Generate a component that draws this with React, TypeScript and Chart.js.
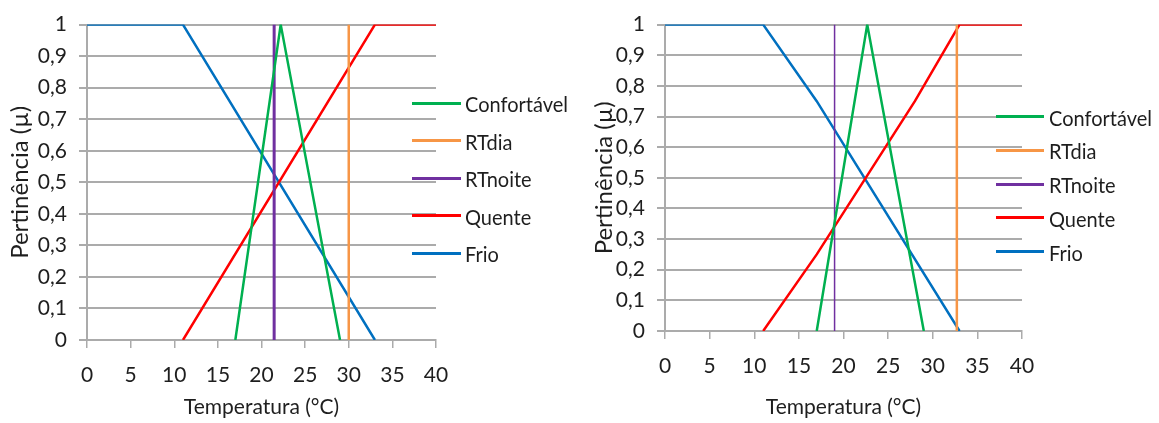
import React, { useEffect, useRef } from "react";
import { Chart, registerables } from "chart.js";

Chart.register(...registerables);

// ---------- data ----------
const seriesNames = ["Confortável", "RTdia", "RTnoite", "Quente", "Frio"];
const seriesColors = ["#00B050", "#F79646", "#7030A0", "#FF0000", "#0070C0"];

const xTickValues = [0, 5, 10, 15, 20, 25, 30, 35, 40];
const yTickLabels = ["0", "0,1", "0,2", "0,3", "0,4", "0,5", "0,6", "0,7", "0,8", "0,9", "1"];
const xAxisTitle = "Temperatura (°C)";
const yAxisTitle = "Pertinência (µ)";

// Left chart
const aConfX = [17, 22.2, 29];
const aConfY = [0, 1, 0];
const aRTdiaX = [30, 30];
const aRTdiaY = [0, 1];
const aRTnoiteX = [21.45, 21.45];
const aRTnoiteY = [0, 1];
const aQuenteX = [11, 33, 40];
const aQuenteY = [0, 1, 1];
const aFrioX = [0, 11, 33];
const aFrioY = [1, 1, 0];

// Right chart
const bConfX = [17, 22.66, 29];
const bConfY = [0, 1, 0];
const bRTdiaX = [32.7, 32.7];
const bRTdiaY = [0, 1];
const bRTnoiteX = [19, 19];
const bRTnoiteY = [0, 1];
const bQuenteX = [11, 17, 28, 33, 40];
const bQuenteY = [0, 0.25, 0.75, 1, 1];
const bFrioX = [0, 11, 17, 33];
const bFrioY = [1, 1, 0.75, 0];

// ---------- style ----------
const FONT = "Lato, 'Open Sans', sans-serif";
const GRID = "#ABABAB";
const TEXT = "#1e1e1e";

type Layout = {
  left: number;
  width: number;
  padRight: number;
  padTop: number;
  padBottom: number;
  yWidth: number;
  xHeight: number;
  yTitlePad: number;
  lineWidths: number[];
  legendTop: number;
  legendStep: number;
  legendLineLeft: number;
  legendLineWidth: number;
  legendTextGap: number;
  legendStroke: number;
};

const leftLayout: Layout = {
  left: 0,
  width: 580,
  padRight: 144,
  padTop: 19,
  padBottom: 3,
  yWidth: 87,
  xHeight: 80,
  yTitlePad: 6,
  lineWidths: [2.5, 2.5, 3, 2.5, 2.5],
  legendTop: 103.3,
  legendStep: 37.5,
  legendLineLeft: 412,
  legendLineWidth: 49,
  legendTextGap: 4,
  legendStroke: 3,
};

const rightLayout: Layout = {
  left: 580,
  width: 579,
  padRight: 137,
  padTop: 18,
  padBottom: 3,
  yWidth: 85,
  xHeight: 89,
  yTitlePad: 9.5,
  lineWidths: [2.5, 2.5, 1.5, 2.5, 2.5],
  legendTop: 116.7,
  legendStep: 33.75,
  legendLineLeft: 416,
  legendLineWidth: 48,
  legendTextGap: 5,
  legendStroke: 3,
};

function toPoints(xs: number[], ys: number[]) {
  return xs.map((x, i) => ({ x, y: ys[i] }));
}

function Panel({ xs, ys, layout }: { xs: number[][]; ys: number[][]; layout: Layout }) {
  const ref = useRef<HTMLCanvasElement | null>(null);

  useEffect(() => {
    if (!ref.current) return;
    const chart = new Chart(ref.current, {
      type: "line",
      data: {
        datasets: seriesNames.map((name, i) => ({
          label: name,
          data: toPoints(xs[i], ys[i]),
          borderColor: seriesColors[i],
          backgroundColor: seriesColors[i],
          borderWidth: layout.lineWidths[i],
          pointRadius: 0,
          tension: 0,
          fill: false,
        })),
      },
      options: {
        animation: false,
        responsive: false,
        layout: {
          padding: { left: 0, right: layout.padRight, top: layout.padTop, bottom: layout.padBottom },
        },
        plugins: {
          legend: { display: false },
          tooltip: { enabled: false },
        },
        scales: {
          x: {
            type: "linear",
            min: 0,
            max: 40,
            afterBuildTicks: (scale: any) => {
              scale.ticks = xTickValues.map((v) => ({ value: v }));
            },
            afterFit: (scale: any) => {
              scale.height = layout.xHeight;
            },
            ticks: {
              color: TEXT,
              font: { family: FONT, size: 21 },
              padding: 15,
              maxRotation: 0,
              autoSkip: false,
            },
            grid: {
              drawOnChartArea: false,
              drawTicks: true,
              tickLength: 8,
              color: GRID,
              lineWidth: 1.5,
            },
            border: { display: true, color: GRID, width: 2 },
            title: {
              display: true,
              text: xAxisTitle,
              color: TEXT,
              font: { family: FONT, size: 21 },
              padding: { top: 0, bottom: 0 },
            },
          },
          y: {
            type: "linear",
            min: 0,
            max: 1,
            afterBuildTicks: (scale: any) => {
              scale.ticks = yTickLabels.map((_, i) => ({ value: i / 10 }));
            },
            afterFit: (scale: any) => {
              scale.width = layout.yWidth;
            },
            ticks: {
              color: TEXT,
              font: { family: FONT, size: 21 },
              padding: 12,
              autoSkip: false,
              callback: (_v: any, index: number) => yTickLabels[index],
            },
            grid: {
              drawOnChartArea: true,
              drawTicks: true,
              tickLength: 8,
              color: GRID,
              lineWidth: 2,
            },
            border: { display: true, color: GRID, width: 2 },
            title: {
              display: true,
              text: yAxisTitle,
              color: TEXT,
              font: { family: FONT, size: 24 },
              padding: { top: layout.yTitlePad, bottom: 0 },
            },
          },
        },
      },
    } as any);
    return () => chart.destroy();
  }, []);

  return (
    <div style={{ position: "absolute", left: layout.left, top: 0, width: layout.width, height: 423 }}>
      <canvas ref={ref} width={layout.width} height={423} style={{ width: layout.width, height: 423, display: "block" }} />
      {seriesNames.map((name, i) => (
        <div
          key={name}
          style={{
            position: "absolute",
            left: layout.legendLineLeft,
            top: layout.legendTop + i * layout.legendStep - 15,
            height: 30,
            display: "flex",
            alignItems: "center",
            whiteSpace: "nowrap",
            fontFamily: FONT,
            fontSize: 20,
            color: TEXT,
          }}
        >
          <span
            style={{
              display: "inline-block",
              width: layout.legendLineWidth,
              height: layout.legendStroke,
              background: seriesColors[i],
              marginRight: layout.legendTextGap,
            }}
          />
          <span style={{ display: "inline-block", transform: "scaleY(1.1)" }}>{name}</span>
        </div>
      ))}
    </div>
  );
}

export default function App() {
  return (
    <div style={{ position: "absolute", left: 0, top: 0, width: 1159, height: 423, background: "#fff", overflow: "hidden" }}>
      <Panel
        xs={[aConfX, aRTdiaX, aRTnoiteX, aQuenteX, aFrioX]}
        ys={[aConfY, aRTdiaY, aRTnoiteY, aQuenteY, aFrioY]}
        layout={leftLayout}
      />
      <Panel
        xs={[bConfX, bRTdiaX, bRTnoiteX, bQuenteX, bFrioX]}
        ys={[bConfY, bRTdiaY, bRTnoiteY, bQuenteY, bFrioY]}
        layout={rightLayout}
      />
    </div>
  );
}
